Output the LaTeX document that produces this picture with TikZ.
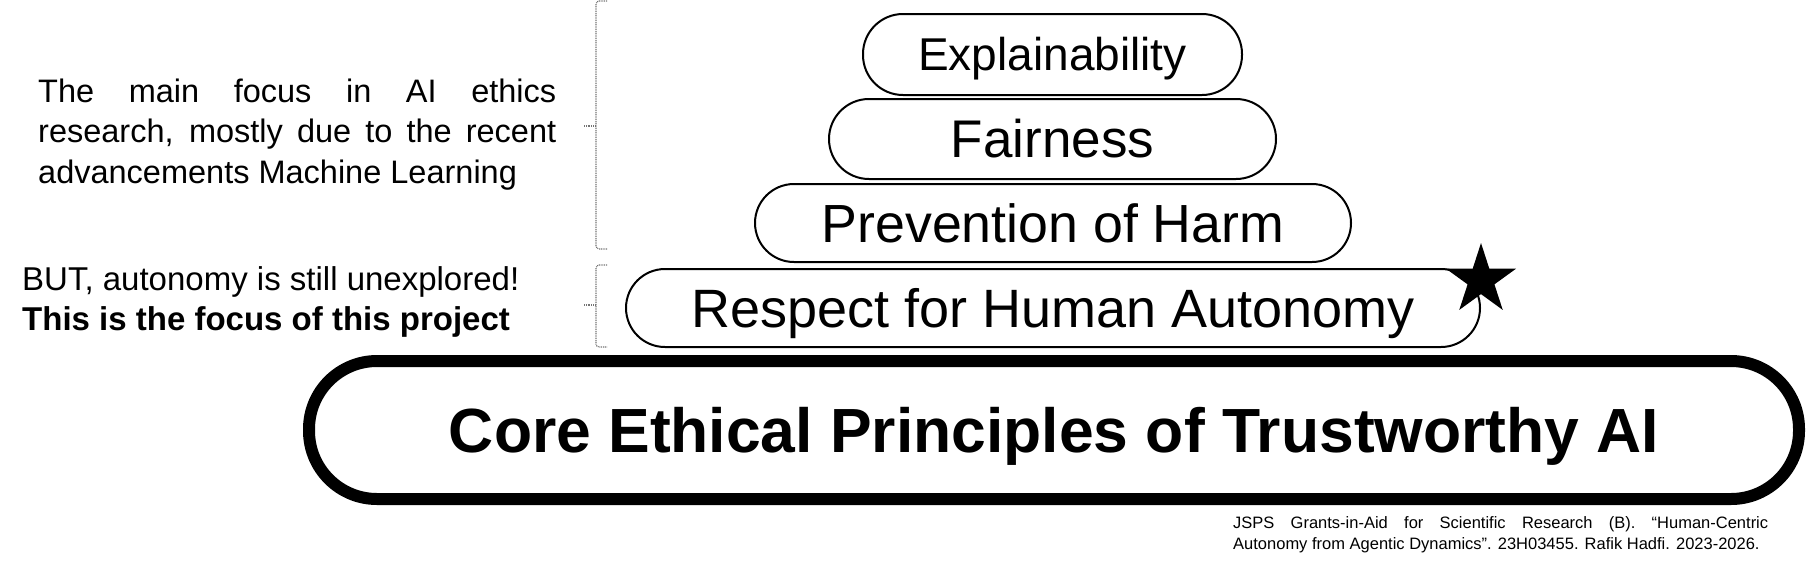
\documentclass[tikz,border=0pt]{standalone}
\usepackage{fontspec}
\setmainfont{Liberation Sans}
\begin{document}
\begin{tikzpicture}[x=1pt,y=-1pt,
  pill/.style={draw, line width=2pt, inner sep=0pt, rounded corners=#1, text depth=0pt},
  corepill/.style={draw, line width=12pt, inner sep=0pt, rounded corners=68pt, text depth=0pt},
  bracket/.style={draw=black!55, line width=1.1pt, dash pattern=on 1pt off 0.8pt, rounded corners=3pt},
  plain/.style={inner sep=0pt, anchor=base west}]
\useasboundingbox (0,0) rectangle (1808,566);

% pills
\node[pill=40pt, minimum width=379pt, minimum height=81pt, text height=32.9pt,
      font=\fontsize{46}{50}\selectfont] (expl) at (1052.5,54.5) {Explainability};
\node[pill=40pt, minimum width=447pt, minimum height=80pt, text height=37.9pt,
      font=\fontsize{53}{58}\selectfont] (fair) at (1052.5,139) {Fairness};
\node[pill=39pt, minimum width=596pt, minimum height=78pt, text height=38.4pt,
      font=\fontsize{53.7}{58}\selectfont] (harm) at (1053,223) {Prevention of Harm};
\node[pill=39pt, minimum width=854pt, minimum height=78pt, text height=38.7pt,
      font=\fontsize{54}{58}\selectfont] (auto) at (1053,308) {Respect for Human Autonomy};
\node[corepill, minimum width=1490pt, minimum height=138pt, text height=44.7pt,
      font=\bfseries\fontsize{62.4}{68}\selectfont] (core) at (1054,430) {Core Ethical Principles of Trustworthy AI};

% star
\fill[shift={(1481,280)}] (270:37) -- (306:14.1) -- (342:37) -- (18:14.1) -- (54:37)
  -- (90:14.1) -- (126:37) -- (162:14.1) -- (198:37) -- (234:14.1) -- cycle;

% brackets
\draw[bracket] (607,1) -- (596,1) -- (596,249) -- (607,249);
\draw[bracket] (584,126) -- (596,126);
\draw[bracket] (607,265) -- (596,265) -- (596,347) -- (607,347);
\draw[bracket] (584,305) -- (596,305);

% left texts
\node[plain, font=\fontsize{32.5}{40.3}\selectfont] (focus) at (38,102.6)
  {\parbox[t]{518pt}{The main focus in AI ethics\linebreak research, mostly due to the recent\linebreak advancements Machine Learning}};
\node[plain, font=\fontsize{33}{39.5}\selectfont] (but) at (22,290.5)
  {\parbox[t]{560pt}{\raggedright BUT, autonomy is still unexplored!\\ \textbf{This is the focus of this project}}};

% footnote
\node[plain, font=\fontsize{16.5}{21}\selectfont] (note) at (1233,528)
  {\parbox[t]{535pt}{\hyphenpenalty=10000 JSPS Grants-in-Aid for Scientific Research (B). “Human-Centric\linebreak \mbox{Autonomy from Agentic Dynamics”. 23H03455. Rafik Hadfi. 2023-2026.}}};
\end{tikzpicture}
\end{document}
